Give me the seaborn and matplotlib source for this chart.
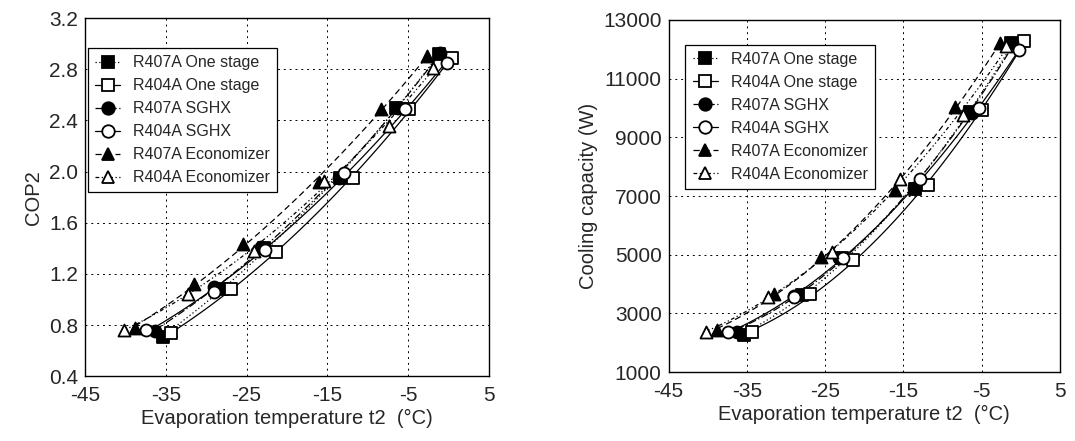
import numpy as np
import matplotlib
matplotlib.use('Agg')
import matplotlib.pyplot as plt
from matplotlib.lines import Line2D
import seaborn as sns

# evaporation temperatures (deg C) for each series
t_407_one = [-35.4, -28.0, -22.8, -13.5, -6.5, -1.2]
t_404_one = [-34.3, -26.9, -21.4, -11.9, -4.9, 0.4]
t_407_sghx = [-36.3, -29.0, -23.2, -13.6, -6.3, -1.1]
t_404_sghx = [-37.4, -29.0, -22.7, -12.9, -5.4, -0.2]
t_407_eco = [-38.8, -31.5, -25.5, -16.1, -8.4, -2.7]
t_404_eco = [-40.2, -32.3, -24.1, -15.4, -7.4, -1.9]

# COP2
cop_407_one = [0.71, 1.08, 1.40, 1.95, 2.50, 2.92]
cop_404_one = [0.74, 1.08, 1.37, 1.95, 2.49, 2.89]
cop_407_sghx = [0.75, 1.10, 1.41, 1.95, 2.50, 2.93]
cop_404_sghx = [0.76, 1.06, 1.39, 1.99, 2.49, 2.85]
cop_407_eco = [0.78, 1.12, 1.43, 1.92, 2.49, 2.90]
cop_404_eco = [0.76, 1.04, 1.38, 1.93, 2.36, 2.81]

# cooling capacity (W)
q_407_one = [2260, 3620, 4900, 7250, 9850, 12200]
q_404_one = [2370, 3670, 4820, 7380, 9930, 12280]
q_407_sghx = [2380, 3600, 4880, 7260, 9820, 12200]
q_404_sghx = [2370, 3570, 4880, 7570, 9990, 11980]
q_407_eco = [2430, 3680, 4930, 7200, 10020, 12200]
q_404_eco = [2374, 3560, 5100, 7570, 9760, 12100]

labels = ['R407A One stage', 'R404A One stage', 'R407A SGHX',
          'R404A SGHX', 'R407A Economizer', 'R404A Economizer']
temps = [t_407_one, t_404_one, t_407_sghx, t_404_sghx, t_407_eco, t_404_eco]
cops = [cop_407_one, cop_404_one, cop_407_sghx, cop_404_sghx, cop_407_eco, cop_404_eco]
caps = [q_407_one, q_404_one, q_407_sghx, q_404_sghx, q_407_eco, q_404_eco]

markers = ['s', 's', 'o', 'o', '^', '^']
faces = ['black', 'white', 'black', 'white', 'black', 'white']
styles = [(0, (1, 2)), '-', (0, (6, 2, 1, 2)), '-', (0, (5, 3)), (0, (3, 2, 1, 2, 1, 2))]

sns.set_style('white')
plt.rcParams['font.family'] = ['Liberation Sans', 'DejaVu Sans']
plt.rcParams['axes.unicode_minus'] = False

fig = plt.figure(figsize=(10.75, 4.41), dpi=100)
ax1 = fig.add_axes([0.079, 0.147, 0.376, 0.812])
ax2 = fig.add_axes([0.622, 0.156, 0.364, 0.799])


def draw(ax, ys, anchor):
    for t, y, m, fc, ls in zip(temps, ys, markers, faces, styles):
        sns.regplot(x=np.array(t), y=np.array(y), order=2, ci=None, truncate=True, ax=ax,
                    marker=m, color='black',
                    scatter_kws={'s': 75, 'facecolors': fc, 'edgecolors': 'black',
                                 'linewidths': 1.3, 'alpha': 1, 'zorder': 3},
                    line_kws={'lw': 0.9, 'ls': ls, 'zorder': 2})
    ax.set_xlim(-45, 5)
    ax.set_xticks([-45, -35, -25, -15, -5, 5])
    ax.grid(True, ls=(0, (2, 4)), color='black', lw=0.7)
    ax.tick_params(labelsize=15, direction='in', length=3, color='black')
    ax.tick_params(axis='x', pad=7)
    ax.tick_params(axis='y', pad=5)
    for sp in ax.spines.values():
        sp.set_color('black')
        sp.set_linewidth(1.0)
    ax.set_xlabel('Evaporation temperature t2  (°C)', fontsize=14.5, labelpad=3)
    handles = [Line2D([], [], color='black', lw=0.9, ls=ls, marker=m, markersize=9,
                      markerfacecolor=fc, markeredgecolor='black', markeredgewidth=1.3)
               for m, fc, ls in zip(markers, faces, styles)]
    leg = ax.legend(handles, labels, loc='upper left', bbox_to_anchor=anchor,
                    borderaxespad=0, fontsize=11.5, handlelength=1.6, labelspacing=0.5,
                    borderpad=0.45, handletextpad=0.8, fancybox=False, framealpha=1)
    leg.get_frame().set_edgecolor('black')
    leg.get_frame().set_linewidth(0.9)


draw(ax1, cops, (0.007, 0.916))
ax1.set_ylim(0.4, 3.2)
ax1.set_yticks(np.arange(0.4, 3.21, 0.4))
ax1.set_yticklabels([f'{v:.1f}' for v in np.arange(0.4, 3.21, 0.4)])
ax1.set_ylabel('COP2', fontsize=14.5, labelpad=4)

draw(ax2, caps, (0.043, 0.929))
ax2.set_ylim(1000, 13000)
ax2.set_yticks(np.arange(1000, 13001, 2000))
ax2.set_ylabel('Cooling capacity (W)', fontsize=14.5, labelpad=4)

fig.savefig('out.png', dpi=100)
